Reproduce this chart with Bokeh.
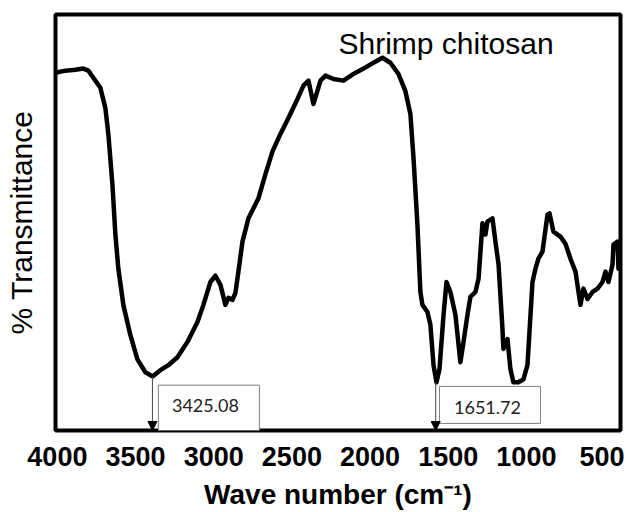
from bokeh.plotting import figure
from bokeh.models import Range1d, FixedTicker, Label, Arrow, NormalHead, ColumnDataSource
from bokeh.embed import file_html
from bokeh.resources import INLINE

# FTIR spectrum of shrimp chitosan
wavenumber = [4012, 3949, 3885, 3834, 3802, 3770, 3725, 3693, 3674, 3648, 3629, 3610, 3578, 3533,
              3488, 3437, 3392, 3341, 3290, 3232, 3168, 3104, 3066, 3021, 2989, 2957, 2925, 2906,
              2880, 2861, 2842, 2816, 2778, 2714, 2669, 2624, 2573, 2522, 2464, 2426, 2394, 2362,
              2337, 2317, 2285, 2234, 2170, 2106, 2042, 1978, 1921, 1870, 1818, 1774, 1742, 1722,
              1697, 1678, 1665, 1633, 1614, 1594, 1575, 1556, 1530, 1511, 1486, 1454, 1422, 1402,
              1377, 1358, 1326, 1306, 1281, 1262, 1249, 1217, 1198, 1178, 1153, 1147, 1121, 1102,
              1083, 1051, 1019, 993, 961, 942, 923, 897, 865, 852, 827, 782, 750, 718, 686, 654,
              635, 609, 577, 545, 513, 494, 475, 449, 443, 417, 411, 398]
transmittance = [86.0, 86.5, 86.7, 87.0, 86.5, 84.8, 82.4, 77.5, 71.3, 59.2, 47.1, 38.9, 30.2, 22.9,
                 17.1, 14.0, 13.0, 14.5, 15.7, 17.6, 21.3, 26.1, 30.2, 35.7, 37.2, 35.0, 30.2, 31.9,
                 31.4, 33.1, 38.2, 45.4, 51.0, 55.8, 61.6, 67.1, 71.3, 75.1, 79.7, 82.9, 84.1, 78.5,
                 81.6, 84.1, 85.3, 84.5, 84.1, 85.7, 87.0, 88.4, 89.6, 88.4, 85.7, 81.6, 76.1, 65.5,
                 49.5, 33.3, 30.2, 28.5, 25.4, 15.7, 11.6, 14.7, 27.8, 35.7, 33.3, 27.8, 16.4, 21.3,
                 27.8, 32.1, 33.3, 36.5, 49.8, 47.1, 50.2, 51.0, 45.4, 39.9, 24.4, 19.6, 22.0, 14.7,
                 11.6, 11.6, 12.3, 15.7, 35.7, 38.9, 41.3, 43.0, 51.9, 52.2, 47.8, 46.6, 44.9, 41.3,
                 38.2, 30.2, 34.1, 31.6, 33.3, 34.1, 35.7, 38.2, 35.7, 39.9, 44.7, 45.4, 38.9, 43.0]

x_ticks = [4000, 3500, 3000, 2500, 2000, 1500, 1000, 500]

# annotated peaks
peak_pos = [3392, 1580]
peak_t = [13.0, 11.6]
peak_labels = ["3425.08", "1651.72"]
box_left = [3354, 1556]
box_right = [2708, 910]
box_top = [10.9, 10.6]
box_bottom = [0.0, 1.7]
label_x = [3053, 1249]
label_y = [6.0, 5.6]

title_text = "Shrimp chitosan"
title_x = 2202
title_y = 93.0

p = figure(width=624, height=512, output_backend="svg", toolbar_location=None,
           x_range=Range1d(4012, 398), y_range=Range1d(0, 100),
           min_border_left=55, min_border_top=14, min_border_right=4, min_border_bottom=10)

p.line(wavenumber, transmittance, line_width=4.5, line_color="black", line_join="round")

# annotation boxes
p.quad(left=box_left, right=box_right, top=box_top, bottom=box_bottom,
       fill_color="white", line_color="#7f7f7f", line_width=1)
for px, pt in zip(peak_pos, peak_t):
    p.add_layout(Arrow(x_start=px, y_start=pt, x_end=px, y_end=0,
                       line_color="#444444", line_width=1,
                       end=NormalHead(size=9, fill_color="black", line_color="black")))
src = ColumnDataSource(dict(x=label_x, y=label_y, t=peak_labels))
p.text(x="x", y="y", text="t", source=src, text_align="center", text_baseline="middle",
       text_font_size="18px", text_color="#222222", text_font={"value": "Lato"})

p.add_layout(Label(x=title_x, y=title_y, text=title_text, text_font="Liberation Sans",
                   text_font_size="30px", text_color="black", text_baseline="alphabetic"))

p.outline_line_color = "black"
p.outline_line_width = 4
p.grid.visible = False

xa = p.xaxis[0]
xa.ticker = FixedTicker(ticks=x_ticks)
xa.axis_line_color = None
xa.major_tick_line_color = None
xa.minor_tick_line_color = None
xa.major_tick_out = 0
xa.major_label_standoff = 16
xa.major_label_text_font = "Liberation Sans"
xa.major_label_text_font_style = "bold"
xa.major_label_text_font_size = "27px"
xa.major_label_text_color = "black"
xa.axis_label = "Wave number (cm\u207b\u00b9)"
xa.axis_label_text_font = "Liberation Sans"
xa.axis_label_text_font_style = "bold"
xa.axis_label_text_font_size = "28px"
xa.axis_label_text_color = "black"
xa.axis_label_standoff = 10

ya = p.yaxis[0]
ya.ticker = FixedTicker(ticks=[])
ya.axis_line_color = None
ya.major_tick_line_color = None
ya.minor_tick_line_color = None
ya.major_tick_out = 0
ya.major_label_text_font_size = "0px"
ya.axis_label = "% Transmittance"
ya.axis_label_text_font = "Liberation Sans"
ya.axis_label_text_font_style = "normal"
ya.axis_label_text_font_size = "30px"
ya.axis_label_text_color = "black"
ya.axis_label_standoff = 18

open("out.html", "w").write(file_html(p, INLINE))
